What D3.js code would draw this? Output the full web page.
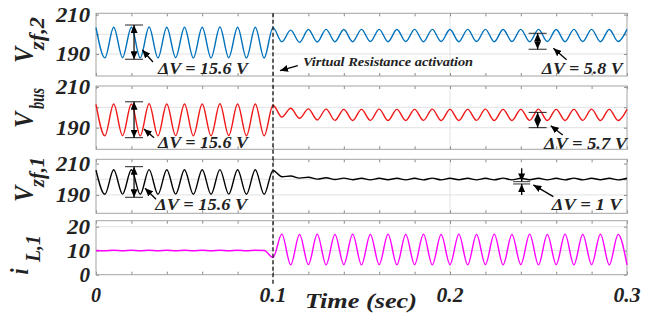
<!DOCTYPE html>
<html><head><meta charset="utf-8">
<script src="https://cdn.jsdelivr.net/npm/d3@7"></script>
<style>
body{margin:0;background:#fff}svg{display:block}
.tt{font-family:'Liberation Serif','Times New Roman',Times,serif;font-weight:bold;font-style:italic;fill:#222}
</style>
</head><body>
<svg id="c" width="657" height="320"></svg>
<script>
// ---------- DATA (extrema of each waveform) ----------
const time = [0,0.005,0.01,0.015,0.02,0.025,0.03,0.035,0.04,0.045,0.05,0.055,0.06,0.065,0.07,0.075,0.08,0.085,0.09,0.095,
  0.1,0.105,0.11,0.115,0.12,0.125,0.13,0.135,0.14,0.145,0.15,0.155,0.16,0.165,0.17,0.175,0.18,0.185,0.19,0.195,
  0.2,0.205,0.21,0.215,0.22,0.225,0.23,0.235,0.24,0.245,0.25,0.255,0.26,0.265,0.27,0.275,0.28,0.285,0.29,0.295,0.3];

const vzf2 = [203.4,188.0,203.6,188.1,203.6,188.0,203.7,188.0,203.6,188.1,203.6,188.0,203.6,188.0,203.7,188.1,203.6,188.0,203.6,188.0,
  203.4,196.2,202.1,195.9,202.4,196.1,202.5,196.2,202.4,196.2,202.5,196.3,202.5,196.2,202.4,196.3,202.5,196.2,202.5,196.3,
  202.4,196.2,202.5,196.3,202.5,196.2,202.4,196.3,202.5,196.2,202.5,196.3,202.4,196.2,202.5,196.3,202.5,196.2,202.4,196.3,202.5];

const vbus = [201.4,186.0,201.6,186.1,201.6,186.0,201.7,186.0,201.6,186.1,201.6,186.0,201.6,186.0,201.7,186.1,201.6,186.0,201.6,186.0,
  201.0,195.2,199.5,194.6,199.2,193.8,199.1,193.6,199.0,193.5,199.0,193.6,199.1,193.5,199.0,193.5,199.0,193.6,199.1,193.5,
  199.0,193.5,199.0,193.6,199.1,193.5,199.0,193.5,199.0,193.6,199.1,193.5,199.0,193.5,199.0,193.6,199.1,193.5,199.0,193.5,199.0];

const vzf1 = [205.8,190.4,206.0,190.5,206.0,190.4,206.1,190.4,206.0,190.5,206.0,190.4,206.0,190.4,206.1,190.5,206.0,190.4,206.0,190.4,
  205.6,201.6,202.1,200.7,201.3,200.1,200.9,199.8,200.7,199.7,200.6,199.6,200.6,199.7,200.6,199.6,200.6,199.6,200.7,199.6,
  200.6,199.7,200.6,199.6,200.6,199.6,200.7,199.6,200.6,199.7,200.6,199.6,200.6,199.6,200.7,199.6,200.6,199.7,200.6,199.6,200.6];

const iL1 = [10.1,10.0,10.2,10.0,10.2,10.0,10.2,10.0,10.2,10.0,10.2,10.0,10.2,10.0,10.2,10.0,10.2,10.0,10.2,10.1,
  7.2,16.9,4.1,16.8,4.2,16.9,4.1,16.8,4.2,16.9,4.1,16.8,4.2,16.9,4.1,16.8,4.2,16.9,4.1,16.8,
  4.2,16.9,4.1,16.8,4.2,16.9,4.1,16.8,4.2,16.9,4.1,16.8,4.2,16.9,4.1,16.8,4.2,16.9,4.1,16.8,4.1];

const xTicks = [0,0.02,0.04,0.06,0.08,0.1,0.12,0.14,0.16,0.18,0.2,0.22,0.24,0.26,0.28,0.3];
const xTickLabels = [0,0.1,0.2,0.3];
const vTicks = [190,200,210];
const vTickLabels = [190,210];
const iTicks = [0,10,20];
const iTickLabels = [0,10,20];
const eventTime = 0.1;

// ---------- LAYOUT ----------
const X0 = 96, X1 = 627;
const x = d3.scaleLinear().domain([0,0.3]).range([X0,X1]);
const svg = d3.select('#c');
const labelWidth = s => { const n = String(s).length; return n >= 3 ? 34 : n === 2 ? 23 : 10.5; };

const panels = [
  {values:vzf2, color:'#0072BD', top:13.3, bottom:76,   domain:[178.8,210.66], ticks:vTicks, labels:vTickLabels, grid:[190,200],
   title:{main:'V', sub:'zf,2', bx:33, by:63, mainSize:24, subStart:13, subLen:33, subDy:9.5, subSize:17}},
  {values:vbus, color:'#F01818', top:86,   bottom:149.3, domain:[179.4,210.44], ticks:vTicks, labels:vTickLabels, grid:[190,200],
   title:{main:'V', sub:'bus', bx:33, by:128, mainSize:24, subStart:19, subLen:21, subDy:9, subSize:17}},
  {values:vzf1, color:'#000000', top:159.3, bottom:213.3, domain:[178.3,212.7], ticks:vTicks, labels:vTickLabels, grid:[190,200],
   title:{main:'V', sub:'zf,1', bx:33, by:202, mainSize:24, subStart:15, subLen:30, subDy:9.5, subSize:17}},
  {values:iL1,  color:'#FF00FF', top:220.7, bottom:274.7, domain:[0,22.5], ticks:iTicks, labels:iTickLabels, grid:[10,20],
   title:{main:'i', sub:'L,1', bx:28, by:274.5, mainSize:22, subStart:12.5, subLen:27, subDy:10, subSize:17}}
];

const defs = svg.append('defs');
defs.append('marker').attr('id','ah').attr('markerUnits','userSpaceOnUse')
  .attr('markerWidth',8).attr('markerHeight',7).attr('refX',8).attr('refY',3.5).attr('orient','auto-start-reverse')
  .append('path').attr('d','M0,0 L8,3.5 L0,7 Z').attr('fill','#000');

panels.forEach(p => {
  const y = d3.scaleLinear().domain(p.domain).range([p.bottom, p.top]);
  p.y = y;
  const g = svg.append('g');
  g.selectAll('line.hg').data(p.grid).join('line').attr('class','hg')
    .attr('x1',X0).attr('x2',X1).attr('y1',d=>y(d)).attr('y2',d=>y(d))
    .attr('stroke','#e2e2e2').attr('stroke-width',1);
  g.selectAll('line.vg').data([0.1,0.2]).join('line').attr('class','vg')
    .attr('x1',d=>x(d)).attr('x2',d=>x(d)).attr('y1',p.top).attr('y2',p.bottom)
    .attr('stroke','#e2e2e2').attr('stroke-width',1);
  const tk = s => { s.select('.domain').remove(); s.selectAll('line').attr('stroke','#8a8a8a'); };
  g.append('g').attr('transform',`translate(0,${p.bottom})`).call(d3.axisBottom(x).tickValues(xTicks).tickSize(-3).tickFormat('')).call(tk);
  g.append('g').attr('transform',`translate(0,${p.top})`).call(d3.axisTop(x).tickValues(xTicks).tickSize(-3).tickFormat('')).call(tk);
  g.append('g').attr('transform',`translate(${X0},0)`).call(d3.axisLeft(y).tickValues(p.ticks).tickSize(-3).tickFormat('')).call(tk);
  g.append('g').attr('transform',`translate(${X1},0)`).call(d3.axisRight(y).tickValues(p.ticks).tickSize(-3).tickFormat('')).call(tk);
  g.append('rect').attr('x',X0).attr('y',p.top).attr('width',X1-X0).attr('height',p.bottom-p.top)
    .attr('fill','none').attr('stroke','#a3a3a3').attr('stroke-width',1);
  g.append('path').datum(time)
    .attr('d', d3.line().x(d=>x(d)).y((d,j)=>y(p.values[j])).curve(d3.curveMonotoneX))
    .attr('fill','none').attr('stroke',p.color).attr('stroke-width',1.4);
  g.selectAll('text.yl').data(p.labels).join('text').attr('class','yl tt')
    .attr('x',90).attr('y',d=>y(d)).attr('dy','0.36em').attr('text-anchor','end')
    .attr('font-size',20).attr('textLength',d=>labelWidth(d)).attr('lengthAdjust','spacingAndGlyphs').text(d=>d);
  const t = p.title;
  const tg = svg.append('g').attr('transform',`translate(${t.bx},${t.by}) scale(1.18,1) rotate(-90)`);
  tg.append('text').attr('class','tt').attr('x',0).attr('y',0).attr('font-size',t.mainSize).text(t.main);
  tg.append('text').attr('class','tt').attr('x',t.subStart).attr('y',t.subDy).attr('font-size',t.subSize)
    .attr('textLength',t.subLen).attr('lengthAdjust','spacingAndGlyphs').text(t.sub);
});

svg.append('line').attr('x1',x(eventTime)).attr('x2',x(eventTime))
  .attr('y1',panels[0].top).attr('y2',285).attr('stroke','#111').attr('stroke-width',1.3).attr('stroke-dasharray','4,2.5');

svg.selectAll('text.xl').data(xTickLabels).join('text').attr('class','xl tt')
  .attr('x',d=>x(d)).attr('y',301.5).attr('text-anchor','middle').attr('font-size',20)
  .attr('textLength',d=>d===0?10:27).attr('lengthAdjust','spacingAndGlyphs').text(d=>d);
svg.append('text').attr('class','tt').attr('x',305).attr('y',308).attr('font-size',21)
  .attr('textLength',112).attr('lengthAdjust','spacingAndGlyphs').text('Time (sec)');

// ---------- ANNOTATIONS (in data units) ----------
const brackets = [
  {p:0, t:0.0215, hi:204.7, lo:187.3}, {p:0, t:0.2495, hi:200.5, lo:192.4},
  {p:1, t:0.0215, hi:202.7, lo:185.1}, {p:1, t:0.2495, hi:197.5, lo:190.0},
  {p:2, t:0.0215, hi:208.0, lo:188.5}
];
const pointers = [
  {p:0, t0:0.0322, v0:185.9, t1:0.0262, v1:192.0},
  {p:0, t0:0.2659, v0:187.0, t1:0.2584, v1:192.9},
  {p:0, t0:0.1140, v0:184.1, t1:0.1040, v1:181.5},
  {p:1, t0:0.0328, v0:185.1, t1:0.0271, v1:189.4},
  {p:1, t0:0.2637, v0:186.4, t1:0.2569, v1:191.0},
  {p:2, t0:0.0339, v0:187.3, t1:0.0277, v1:194.3},
  {p:2, t0:0.2584, v0:188.9, t1:0.2471, v1:196.4},
  {p:2, t0:0.2405, v0:207.0, t1:0.2405, v1:198.6},
  {p:2, t0:0.2405, v0:190.0, t1:0.2405, v1:196.9}
];
const notes = [
  {p:0, t:0.035,  v:179.9, text:'\u0394V = 15.6 V', w:90, fs:17},
  {p:0, t:0.2518, v:179.9, text:'\u0394V = 5.8 V', w:81, fs:17},
  {p:0, t:0.117,  v:183.9, text:'Virtual Resistance activation', w:170, fs:13},
  {p:1, t:0.035,  v:179.8, text:'\u0394V = 15.6 V', w:90, fs:17},
  {p:1, t:0.2531, v:179.6, text:'\u0394V = 5.7 V', w:83, fs:17},
  {p:2, t:0.0335, v:180.6, text:'\u0394V = 15.6 V', w:92, fs:17},
  {p:2, t:0.2575, v:180.6, text:'\u0394V = 1 V', w:70, fs:17}
];
const smallMarks = [{p:2, t:0.2405, hi:198.5, lo:197.0}];

const ag = svg.append('g');
brackets.forEach(b => {
  const y = panels[b.p].y, cx = x(b.t);
  [b.hi,b.lo].forEach(v => ag.append('line').attr('x1',cx-9).attr('x2',cx+9).attr('y1',y(v)).attr('y2',y(v))
    .attr('stroke','#222').attr('stroke-width',1));
  ag.append('line').attr('x1',cx).attr('x2',cx).attr('y1',y(b.hi)).attr('y2',y(b.lo))
    .attr('stroke','#000').attr('stroke-width',1.2).attr('marker-start','url(#ah)').attr('marker-end','url(#ah)');
});
smallMarks.forEach(b => {
  const y = panels[b.p].y, cx = x(b.t);
  [b.hi,b.lo].forEach(v => ag.append('line').attr('x1',cx-8.5).attr('x2',cx+8.5).attr('y1',y(v)).attr('y2',y(v))
    .attr('stroke','#555').attr('stroke-width',1.2));
});
pointers.forEach(a => {
  const y = panels[a.p].y;
  ag.append('line').attr('x1',x(a.t0)).attr('y1',y(a.v0)).attr('x2',x(a.t1)).attr('y2',y(a.v1))
    .attr('stroke','#000').attr('stroke-width',1.3).attr('marker-end','url(#ah)');
});
notes.forEach(n => {
  const y = panels[n.p].y;
  ag.append('text').attr('class','tt').attr('x',x(n.t)).attr('y',y(n.v)).attr('font-size',n.fs)
    .attr('textLength',n.w).attr('lengthAdjust','spacingAndGlyphs').text(n.text);
});
</script>
</body></html>
